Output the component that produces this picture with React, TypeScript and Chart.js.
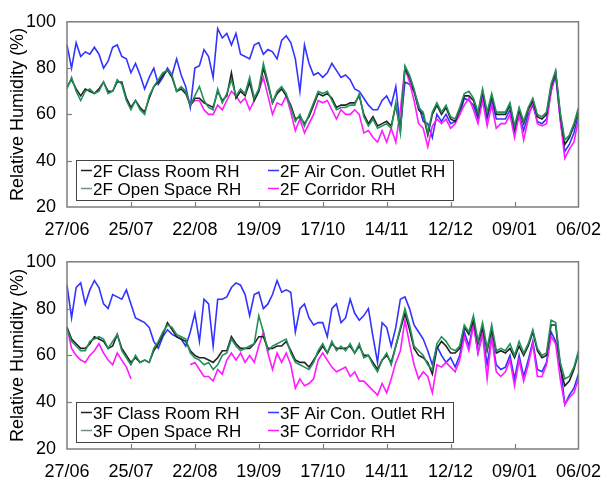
import React, { useEffect, useRef } from 'react';
import { Chart, registerables } from 'chart.js';

Chart.register(...registerables);

// Tick labels on the date axis (every 28 days)
const xTickLabels = ['27/06', '25/07', '22/08', '19/09', '17/10', '14/11', '12/12', '09/01', '06/02'];
// Samples are every 2 days from 27/06 to 06/02
const sampleStepDays = 2;
const startDate = { year: 2009, month: 5, day: 27 };
const sampleCount = 113;

const yTicks = [20, 40, 60, 80, 100];

// ---- 2F series (RH %) ----
const rh2fClass = [
  72, 75, 71, 68, 71, 70, 69, 71, 74, 70,
  70, 74, 74, 67, 63, 66, 63, 61, 67, 72,
  74, 77, 79, 76, 70, 71, 69, 64, 67, 67,
  65, 64, 63, 70, 66, 68, 78, 67, 70, 68,
  74, 66, 70, 80, 73, 65, 69, 71, 68, 64,
  58, 59, 56, 59, 64, 69, 68, 69, 67, 63,
  64, 64, 65, 65, 68, 60, 56, 59, 55, 56,
  57, 55, 64, 53, 80, 76, 70, 62, 60, 51,
  60, 64, 60, 63, 58, 57, 62, 68, 68, 66,
  60, 70, 60, 68, 60, 60, 60, 64, 54, 62,
  56, 62, 66, 59, 58, 60, 72, 78, 60, 47,
  50, 55, 62,
];
const rh2fAirCon = [
  90, 80, 91, 85, 87, 86, 89, 86, 80, 83,
  89, 90, 85, 84, 78, 82, 77, 71, 76, 80,
  73, 76, 80, 77, 84, 77, 72, 63, 80, 81,
  88, 85, 76, 97, 93, 95, 90, 95, 86, 85,
  84, 90, 91, 86, 88, 87, 84, 92, 94, 91,
  84, 70, 90, 82, 77, 78, 76, 78, 82, 79,
  76, 77, 75, 71, 70, 67, 64, 62, 62, 66,
  68, 64, 72, 54, 74, 73, 70, 64, 57, 56,
  50, 60, 57, 60, 56, 57, 60, 67, 66, 64,
  58, 68, 58, 66, 58, 58, 58, 62, 52, 60,
  53, 60, 64, 57, 56, 58, 70, 77, 58, 44,
  47, 52, 60,
];
const rh2fOpen = [
  71, 76, 70, 66, 70, 71, 69, 70, 74, 69,
  70, 75, 73, 66, 62, 66, 62, 60, 68, 72,
  75, 78, 79, 77, 70, 72, 70, 64, 68, 72,
  66, 63, 62, 71, 65, 69, 75, 68, 71, 69,
  76, 67, 71, 82, 74, 65, 70, 72, 69, 63,
  57, 60, 55, 60, 65, 70, 69, 70, 66, 62,
  63, 63, 64, 64, 69, 59, 55, 58, 54, 55,
  56, 54, 65, 52, 81, 77, 71, 63, 61, 52,
  61, 65, 61, 64, 59, 58, 63, 69, 70, 67,
  61, 71, 61, 69, 61, 61, 61, 65, 55, 63,
  57, 63, 67, 60, 59, 61, 73, 79, 61, 49,
  51, 56, 63,
];
const rh2fCorridor = [
  null, null, null, null, null, null, null, null, null, null,
  null, null, null, null, null, null, null, null, null, null,
  null, null, null, null, null, null, null, 64, 66, 66,
  62, 60, 60, 64, 62, 66, 70, 68, 65, 67,
  62, 66, 70, 76, 68, 60, 65, 64, 68, 61,
  53, 58, 52, 56, 60, 66, 65, 66, 62, 58,
  62, 60, 60, 62, 60, 52, 53, 50, 48, 53,
  48, 54, 48, 62, 80, 74, 66, 56, 54, 46,
  55, 58, 56, 58, 54, 56, 60, 64, 67, 62,
  56, 66, 55, 64, 54, 56, 56, 60, 50, 60,
  49, 58, 66, 56, 55, 56, 70, 78, 58, 41,
  45, 48, 58,
];

// ---- 3F series (RH %) ----
const rh3fClass = [
  72, 67, 65, 63, 63, 65, 68, 67, 66, 63,
  64, 69, 63, 60, 57, 59, 57, 58, 57, 62,
  65, 69, 74, 71, 68, 67, 66, 62, 60, 59,
  59, 58, 57, 59, 62, 62, 68, 65, 63, 63,
  63, 65, 68, 68, 63, 63, 64, 64, 66, 62,
  58, 57, 57, 55, 58, 61, 64, 61, 65, 63,
  63, 63, 64, 61, 64, 60, 60, 57, 54, 58,
  60, 57, 64, 71, 78, 71, 63, 60, 59, 57,
  52, 63, 66, 64, 61, 61, 63, 72, 69, 75,
  65, 72, 62, 71, 61, 62, 61, 63, 59, 64,
  60, 64, 70, 62, 59, 60, 73, 73, 55, 47,
  49, 54, 61,
];
const rh3fAirCon = [
  90, 76, 89, 91, 82, 88, 92, 89, 82, 80,
  86, 85, 84, 88, 82, 76, 75, 74, 72, 66,
  63, 68, 71, 69, 68, 67, 64, 70, 78, 66,
  84, 82, 64, 84, 84, 85, 89, 91, 90, 86,
  77, 86, 87, 80, 82, 86, 92, 87, 88, 87,
  70, 80, 82, 76, 73, 74, 74, 68, 80, 82,
  74, 76, 84, 78, 75, 77, 80, 68, 57, 74,
  72, 64, 72, 84, 85, 80, 73, 70, 67, 62,
  56, 64, 60, 57, 59, 55, 60, 70, 64, 74,
  61, 70, 56, 68, 56, 54, 55, 60, 50, 60,
  51, 58, 66, 54, 53, 57, 70, 66, 57, 39,
  43, 46, 52,
];
const rh3fOpen = [
  71, 66, 64, 62, 62, 66, 67, 68, 67, 63,
  66, 69, 62, 59, 56, 60, 57, 58, 57, 63,
  66, 70, 73, 72, 69, 68, 67, 61, 59, 58,
  56, 57, 54, 56, 60, 61, 67, 64, 62, 63,
  64, 65, 77, 70, 62, 64, 65, 66, 67, 61,
  57, 56, 55, 54, 57, 62, 65, 61, 66, 62,
  64, 62, 65, 61, 65, 59, 60, 56, 53, 58,
  61, 56, 64, 72, 80, 73, 64, 62, 60, 56,
  54, 65, 68, 66, 63, 62, 64, 73, 70, 77,
  66, 74, 63, 73, 62, 63, 62, 65, 60, 66,
  61, 65, 71, 63, 60, 61, 75, 74, 57, 50,
  51, 55, 62,
];
const rh3fCorridor = [
  72, 63, 60, 58, 57, 60, 62, 65, 61, 58,
  56, 61, 58, 55, 50, null, null, null, null, null,
  null, null, null, null, null, null, null, 56, 57, 54,
  51, 51, 49, 54, 52, 58, 61, 58, 61, 57,
  60, 57, 64, 70, 61, 54, 61, 57, 61, 56,
  46, 50, 47, 48, 50, 58, 61, 58, 55, 53,
  54, 55, 51, 53, 49, 49, 47, 45, 43, 48,
  44, 50, 57, 62, 75, 65, 56, 50, 53, 51,
  44, 56, 55, 57, 55, 53, 58, 68, 62, 73,
  61, 69, 50, 68, 53, 51, 53, 58, 47, 58,
  49, 56, 65, 51, 51, 56, 68, 65, 50, 39,
  42, 44, 50,
];

const COLORS = {
  classRoom: '#222222',
  airCon: '#3333ff',
  openSpace: '#23905a',
  corridor: '#ff1aff',
};

const FONT = '"Liberation Sans", Arial, Helvetica, sans-serif';

function buildDateLabels(): string[] {
  const out: string[] = [];
  for (let i = 0; i < sampleCount; i++) {
    const d = new Date(Date.UTC(startDate.year, startDate.month, startDate.day + i * sampleStepDays));
    const dd = String(d.getUTCDate()).padStart(2, '0');
    const mm = String(d.getUTCMonth() + 1).padStart(2, '0');
    out.push(dd + '/' + mm);
  }
  return out;
}
const dateLabels = buildDateLabels();
const ticksEvery = 28 / sampleStepDays;

const frameTicksPlugin = {
  id: 'frameTicks',
  afterDatasetsDraw(chart: any) {
    const { ctx, chartArea: a, scales } = chart;
    ctx.save();
    ctx.strokeStyle = '#7d7d7d';
    ctx.lineWidth = 1.5;
    ctx.strokeRect(a.left, a.top, a.right - a.left, a.bottom - a.top);
    ctx.lineWidth = 1.2;
    const xs = scales.x;
    for (let i = ticksEvery; i < xs.ticks.length - 1; i += ticksEvery) {
      const px = Math.round(xs.getPixelForTick(i)) + 0.5;
      ctx.beginPath();
      ctx.moveTo(px, a.bottom);
      ctx.lineTo(px, a.bottom - 5);
      ctx.stroke();
    }
    const ys = scales.y;
    ys.ticks.forEach((t: any) => {
      if (t.value > ys.min && t.value < ys.max) {
        const py = Math.round(ys.getPixelForValue(t.value)) + 0.5;
        ctx.beginPath();
        ctx.moveTo(a.left, py);
        ctx.lineTo(a.left + 5, py);
        ctx.stroke();
      }
    });
    ctx.restore();
  },
};

const boxLegendPlugin = {
  id: 'boxLegend',
  afterDraw(chart: any, _args: any, opts: any) {
    const { ctx, chartArea: a } = chart;
    const items = opts.items || [];
    const left = a.left + 9;
    const bottom = a.bottom - 7;
    const width = 377;
    const height = 40;
    const top = bottom - height;
    ctx.save();
    ctx.fillStyle = '#ffffff';
    ctx.fillRect(left, top, width, height);
    ctx.strokeStyle = '#444444';
    ctx.lineWidth = 1;
    ctx.strokeRect(left + 0.5, top + 0.5, width, height);
    ctx.font = '17px ' + FONT;
    ctx.textBaseline = 'alphabetic';
    ctx.textAlign = 'left';
    const colX = [left + 5, left + 192];
    const rowY = [top + 16.5, top + 34.5];
    items.forEach((it: any, i: number) => {
      const cx = colX[i % 2];
      const ry = rowY[Math.floor(i / 2)];
      ctx.strokeStyle = it.color;
      ctx.lineWidth = 1.5;
      ctx.beginPath();
      ctx.moveTo(cx, ry - 6);
      ctx.lineTo(cx + 11, ry - 6);
      ctx.stroke();
      ctx.fillStyle = '#000000';
      ctx.fillText(it.text, cx + 12, ry);
    });
    ctx.restore();
  },
};

type PanelProps = {
  floor: string;
  height: number;
  padTop: number;
  plotBottom: number;
  classRoom: (number | null)[];
  airCon: (number | null)[];
  openSpace: (number | null)[];
  corridor: (number | null)[];
};

function Panel(p: PanelProps) {
  const ref = useRef<HTMLCanvasElement | null>(null);
  useEffect(() => {
    if (!ref.current) return;
    const mk = (label: string, data: (number | null)[], color: string) => ({
      label,
      data,
      borderColor: color,
      backgroundColor: color,
      borderWidth: 1.6,
      pointRadius: 0,
      tension: 0,
      spanGaps: false,
      fill: false,
    });
    const chart = new Chart(ref.current, {
      type: 'line',
      data: {
        labels: dateLabels,
        datasets: [
          mk(p.floor + ' Open Space RH', p.openSpace, COLORS.openSpace),
          mk(p.floor + ' Class Room RH', p.classRoom, COLORS.classRoom),
          mk(p.floor + ' Corridor RH', p.corridor, COLORS.corridor),
          mk(p.floor + ' Air Con. Outlet RH', p.airCon, COLORS.airCon),
        ],
      },
      options: {
        responsive: false,
        animation: false,
        devicePixelRatio: 1,
        layout: { padding: { top: p.padTop, right: 26, left: 0, bottom: 0 } },
        plugins: {
          legend: { display: false },
          tooltip: { enabled: false },
          boxLegend: {
            items: [
              { text: p.floor + ' Class Room RH', color: COLORS.classRoom },
              { text: p.floor + ' Air Con. Outlet RH', color: COLORS.airCon },
              { text: p.floor + ' Open Space RH', color: '#6f8f7f' },
              { text: p.floor + ' Corridor RH', color: COLORS.corridor },
            ],
          },
        } as any,
        scales: {
          x: {
            type: 'category',
            offset: false,
            grid: { display: false, drawTicks: false },
            border: { display: false },
            ticks: {
              autoSkip: false,
              maxRotation: 0,
              minRotation: 0,
              padding: 12,
              color: '#000',
              font: { family: FONT, size: 18 },
              callback: (_v: any, i: number) => (i % ticksEvery === 0 ? xTickLabels[i / ticksEvery] : ''),
            },
            afterFit: (s: any) => {
              s.height = p.height - p.plotBottom;
            },
          },
          y: {
            min: 20,
            max: 100,
            grid: { display: false, drawTicks: false },
            border: { display: false },
            afterBuildTicks: (s: any) => {
              s.ticks = yTicks.map((v) => ({ value: v }));
            },
            ticks: {
              padding: 11,
              color: '#000',
              font: { family: FONT, size: 18 },
            },
            title: {
              display: true,
              text: 'Relative Humidity (%)',
              color: '#000',
              font: { family: FONT, size: 18 },
              padding: { top: 7, bottom: 0 },
            },
            afterFit: (s: any) => {
              s.width = 67;
            },
          },
        },
      },
      plugins: [frameTicksPlugin, boxLegendPlugin],
    });
    return () => chart.destroy();
  }, []);
  return <canvas ref={ref} width={613} height={p.height} style={{ display: 'block', width: 613, height: p.height }} />;
}

export default function App() {
  return (
    <div style={{ position: 'absolute', left: 0, top: 0, width: 613, height: 481, background: '#fff' }}>
      <Panel floor="2F" height={240} padTop={15} plotBottom={207}
        classRoom={rh2fClass} airCon={rh2fAirCon} openSpace={rh2fOpen} corridor={rh2fCorridor} />
      <Panel floor="3F" height={241} padTop={16} plotBottom={209}
        classRoom={rh3fClass} airCon={rh3fAirCon} openSpace={rh3fOpen} corridor={rh3fCorridor} />
    </div>
  );
}
